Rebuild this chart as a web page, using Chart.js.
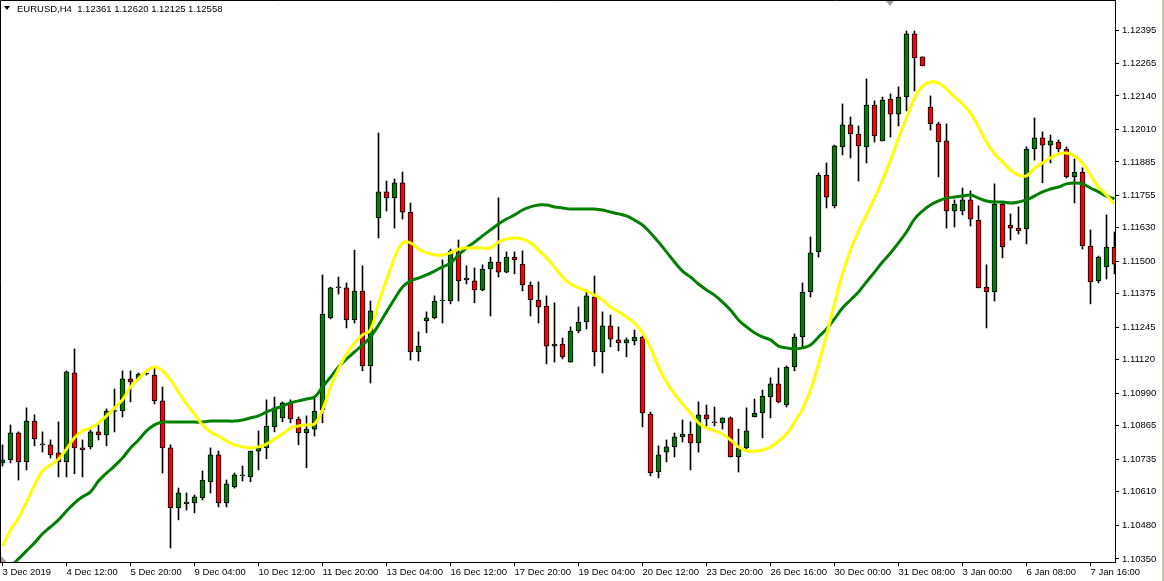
<!DOCTYPE html>
<html>
<head>
<meta charset="utf-8">
<title>EURUSD,H4</title>
<script src="https://cdn.jsdelivr.net/npm/chart.js@4.4.1/dist/chart.umd.min.js"></script>
<style>
  html, body { margin: 0; padding: 0; background: #fff; }
  #wrap { position: relative; width: 1164px; height: 581px; overflow: hidden; }
  #header { position: absolute; left: 17px; top: 3px; font: 9.5px "Liberation Sans", Arial, sans-serif; color: #000; white-space: pre; }
  #arrow { position: absolute; left: 4px; top: 6px; width: 0; height: 0; border-left: 3.5px solid transparent; border-right: 3.5px solid transparent; border-top: 4px solid #000; }
</style>
</head>
<body>
<div id="wrap">
  <canvas id="myChart" width="1164" height="581"></canvas>
  <div id="arrow"></div>
  <div id="header">EURUSD,H4  1.12361 1.12620 1.12125 1.12558</div>
</div>
<script>
// EURUSD H4 candles, one entry per bar
const opens = [
  1.10721,1.10733,1.10837,1.10725,1.10883,1.10791,1.10791,1.10760,1.10725,1.11069,
  1.10779,1.10783,1.10841,1.10829,1.10920,1.10922,1.11046,1.11046,1.11065,1.11061,
  1.10961,1.10779,1.10547,1.10563,1.10566,1.10586,1.10648,1.10752,1.10566,1.10628,
  1.10671,1.10667,1.10767,1.10779,1.10860,1.10895,1.10953,1.10891,1.10837,1.10852,
  1.10926,1.11282,1.11398,1.11398,1.11274,1.11386,1.11096,1.11668,1.11769,1.11746,
  1.11804,1.11691,1.11150,1.11270,1.11282,1.11347,1.11347,1.11537,1.11429,1.11425,
  1.11390,1.11471,1.11498,1.11459,1.11517,1.11490,1.11409,1.11351,1.11328,1.11173,
  1.11181,1.11111,1.11231,1.11266,1.11363,1.11150,1.11251,1.11197,1.11185,1.11193,
  1.11208,1.10910,1.10686,1.10763,1.10783,1.10822,1.10833,1.10798,1.10907,1.10880,
  1.10876,1.10895,1.10744,1.10779,1.10899,1.10914,1.10976,1.11027,1.10945,1.11092,
  1.11208,1.11382,1.11537,1.11834,1.11715,1.11943,1.12028,1.11993,1.11943,1.12105,
  1.11966,1.12128,1.12070,1.12136,1.12380,1.12291,1.12097,1.12032,1.11966,1.11695,
  1.11695,1.11738,1.11660,1.11401,1.11382,1.11722,1.11641,1.11629,1.11626,1.11935,
  1.11978,1.11950,1.11962,1.11935,1.11827,1.11846,1.11560,1.11425,1.11479,1.11556
];
const highs = [
  1.10791,1.10868,1.10841,1.10934,1.10907,1.10841,1.10810,1.10880,1.11077,1.11162,
  1.10810,1.10849,1.10868,1.10930,1.11007,1.11077,1.11077,1.11069,1.11069,1.11092,
  1.11015,1.10791,1.10624,1.10605,1.10597,1.10690,1.10779,1.10767,1.10655,1.10682,
  1.10709,1.10767,1.10845,1.10965,1.10976,1.10957,1.10965,1.10899,1.10903,1.10976,
  1.11448,1.11401,1.11440,1.11417,1.11544,1.11483,1.11347,1.11997,1.11811,1.11819,
  1.11846,1.11726,1.11228,1.11305,1.11367,1.11506,1.11548,1.11583,1.11483,1.11475,
  1.11487,1.11517,1.11746,1.11537,1.11537,1.11541,1.11421,1.11421,1.11367,1.11340,
  1.11204,1.11247,1.11324,1.11390,1.11444,1.11305,1.11293,1.11247,1.11204,1.11235,
  1.11212,1.10918,1.10787,1.10810,1.10837,1.10887,1.10880,1.10957,1.10945,1.10937,
  1.10895,1.10899,1.10852,1.10934,1.10968,1.11003,1.11050,1.11088,1.11096,1.11220,
  1.11417,1.11595,1.11842,1.11881,1.11950,1.12109,1.12059,1.12024,1.12206,1.12121,
  1.12136,1.12148,1.12175,1.12391,1.12391,1.12291,1.12140,1.12039,1.12032,1.11738,
  1.11784,1.11773,1.11715,1.11487,1.11800,1.11730,1.11684,1.11711,1.11943,1.12055,
  1.12001,1.11989,1.11970,1.11943,1.11896,1.11862,1.11622,1.11521,1.11680,1.11614
];
const lows = [
  1.10709,1.10721,1.10655,1.10694,1.10787,1.10763,1.10740,1.10667,1.10667,1.10679,
  1.10667,1.10775,1.10810,1.10787,1.10841,1.10899,1.10957,1.11042,1.11061,1.10949,
  1.10682,1.10392,1.10501,1.10539,1.10528,1.10578,1.10605,1.10551,1.10551,1.10624,
  1.10651,1.10648,1.10694,1.10737,1.10841,1.10880,1.10876,1.10791,1.10702,1.10825,
  1.10876,1.11278,1.11374,1.11243,1.11262,1.11077,1.11030,1.11591,1.11695,1.11629,
  1.11664,1.11119,1.11115,1.11224,1.11278,1.11262,1.11336,1.11347,1.11413,1.11340,
  1.11386,1.11289,1.11440,1.11456,1.11452,1.11386,1.11289,1.11262,1.11104,1.11111,
  1.11123,1.11111,1.11224,1.11239,1.11096,1.11069,1.11170,1.11154,1.11131,1.11177,
  1.10860,1.10671,1.10663,1.10725,1.10744,1.10802,1.10694,1.10763,1.10864,1.10864,
  1.10852,1.10744,1.10686,1.10775,1.10899,1.10818,1.10895,1.10953,1.10937,1.11077,
  1.11170,1.11363,1.11517,1.11707,1.11707,1.11912,1.11900,1.11811,1.11881,1.11962,
  1.11966,1.11981,1.12024,1.12082,1.12159,1.12256,1.12008,1.11827,1.11629,1.11633,
  1.11680,1.11637,1.11398,1.11243,1.11347,1.11514,1.11583,1.11606,1.11568,1.11892,
  1.11804,1.11881,1.11923,1.11823,1.11726,1.11548,1.11336,1.11417,1.11432,1.11452
];
const closes = [
  1.10733,1.10837,1.10725,1.10883,1.10814,1.10791,1.10752,1.10725,1.11073,1.10779,
  1.10771,1.10841,1.10829,1.10922,1.10923,1.11046,1.11034,1.11065,1.11065,1.10961,
  1.10779,1.10547,1.10605,1.10570,1.10590,1.10655,1.10752,1.10566,1.10640,1.10675,
  1.10671,1.10767,1.10779,1.10864,1.10934,1.10953,1.10891,1.10837,1.10852,1.10922,
  1.11297,1.11398,1.11398,1.11274,1.11386,1.11096,1.11309,1.11769,1.11746,1.11804,
  1.11691,1.11150,1.11173,1.11282,1.11347,1.11347,1.11541,1.11425,1.11436,1.11390,
  1.11471,1.11498,1.11459,1.11517,1.11506,1.11409,1.11351,1.11324,1.11173,1.11181,
  1.11131,1.11231,1.11266,1.11367,1.11150,1.11251,1.11200,1.11185,1.11197,1.11208,
  1.10914,1.10682,1.10752,1.10783,1.10822,1.10833,1.10798,1.10907,1.10891,1.10876,
  1.10895,1.10744,1.10779,1.10845,1.10914,1.10980,1.11027,1.10957,1.11092,1.11208,
  1.11382,1.11533,1.11834,1.11749,1.11947,1.12028,1.11993,1.11947,1.12105,1.11985,
  1.12124,1.12070,1.12136,1.12380,1.12287,1.12256,1.12032,1.11962,1.11695,1.11722,
  1.11738,1.11664,1.11398,1.11382,1.11722,1.11556,1.11629,1.11618,1.11935,1.11978,
  1.11950,1.11966,1.11935,1.11827,1.11846,1.11560,1.11421,1.11517,1.11556,1.11490
];

// moving averages (yellow = fast, green = slow)
const fastMA = [
  1.10400,1.10462,1.10508,1.10570,1.10636,1.10690,1.10713,1.10736,1.10775,1.10818,
  1.10845,1.10856,1.10876,1.10903,1.10934,1.10965,1.11015,1.11046,1.11077,1.11092,
  1.11077,1.11042,1.10995,1.10949,1.10910,1.10868,1.10841,1.10825,1.10806,1.10791,
  1.10783,1.10779,1.10783,1.10794,1.10814,1.10833,1.10856,1.10864,1.10868,1.10872,
  1.10926,1.11015,1.11084,1.11142,1.11185,1.11216,1.11235,1.11340,1.11428,1.11514,
  1.11572,1.11572,1.11548,1.11533,1.11525,1.11525,1.11533,1.11548,1.11552,1.11552,
  1.11552,1.11552,1.11575,1.11587,1.11591,1.11587,1.11572,1.11544,1.11514,1.11479,
  1.11440,1.11413,1.11398,1.11386,1.11370,1.11351,1.11324,1.11305,1.11285,1.11262,
  1.11224,1.11166,1.11092,1.11034,1.10988,1.10949,1.10914,1.10876,1.10856,1.10845,
  1.10833,1.10810,1.10783,1.10767,1.10767,1.10771,1.10783,1.10806,1.10833,1.10879,
  1.10930,1.11003,1.11104,1.11216,1.11336,1.11452,1.11544,1.11618,1.11680,1.11745,
  1.11815,1.11892,1.11977,1.12055,1.12132,1.12178,1.12194,1.12190,1.12167,1.12136,
  1.12109,1.12074,1.12020,1.11962,1.11916,1.11885,1.11854,1.11834,1.11831,1.11861,
  1.11881,1.11900,1.11916,1.11919,1.11908,1.11881,1.11834,1.11788,1.11757,1.11722
];
const slowMA = [
  1.10315,1.10323,1.10350,1.10381,1.10412,1.10447,1.10474,1.10501,1.10535,1.10566,
  1.10590,1.10609,1.10651,1.10682,1.10709,1.10740,1.10779,1.10810,1.10845,1.10868,
  1.10879,1.10879,1.10879,1.10879,1.10879,1.10879,1.10883,1.10883,1.10883,1.10883,
  1.10887,1.10895,1.10903,1.10918,1.10930,1.10941,1.10953,1.10961,1.10968,1.10976,
  1.11015,1.11053,1.11092,1.11123,1.11150,1.11177,1.11208,1.11254,1.11305,1.11355,
  1.11401,1.11425,1.11436,1.11448,1.11463,1.11479,1.11494,1.11525,1.11552,1.11575,
  1.11599,1.11622,1.11645,1.11664,1.11680,1.11699,1.11711,1.11718,1.11718,1.11711,
  1.11707,1.11703,1.11703,1.11703,1.11703,1.11699,1.11691,1.11684,1.11676,1.11660,
  1.11641,1.11610,1.11575,1.11537,1.11498,1.11463,1.11440,1.11413,1.11390,1.11370,
  1.11343,1.11312,1.11274,1.11247,1.11224,1.11208,1.11197,1.11173,1.11166,1.11162,
  1.11166,1.11177,1.11208,1.11239,1.11278,1.11320,1.11351,1.11382,1.11421,1.11459,
  1.11498,1.11533,1.11572,1.11614,1.11664,1.11695,1.11718,1.11734,1.11745,1.11749,
  1.11753,1.11757,1.11745,1.11734,1.11730,1.11730,1.11726,1.11730,1.11738,1.11753,
  1.11769,1.11780,1.11788,1.11800,1.11803,1.11800,1.11784,1.11769,1.11753,1.11742
];

// a time label every 8 bars, starting with bar 0
const xTickLabels = ["3 Dec 2019", "4 Dec 12:00", "5 Dec 20:00", "9 Dec 04:00", "10 Dec 12:00",
  "11 Dec 20:00", "13 Dec 04:00", "16 Dec 12:00", "17 Dec 20:00", "19 Dec 04:00", "20 Dec 12:00",
  "23 Dec 20:00", "26 Dec 16:00", "30 Dec 00:00", "31 Dec 08:00", "3 Jan 00:00", "6 Jan 08:00", "7 Jan 16:00"];
const yTickLabels = ["1.12395", "1.12265", "1.12140", "1.12010", "1.11885", "1.11755", "1.11630",
  "1.11500", "1.11375", "1.11245", "1.11120", "1.10990", "1.10865", "1.10735", "1.10610",
  "1.10480", "1.10350"];
const yMin = 1.10338;
const yMax = 1.12511;


const wicks = highs.map((h, i) => ({ x: i, y: [lows[i], h] }));
const bodies = opens.map((o, i) => ({ x: i, y: [o, closes[i]] }));
const bodyColors = opens.map((o, i) => closes[i] >= o ? "#008000" : "#ff0000");
const fastLine = fastMA.map((v, i) => ({ x: i, y: v }));
const slowLine = slowMA.map((v, i) => ({ x: i, y: v }));

const tickFont = { family: "'Liberation Sans', Arial, sans-serif", size: 9.5 };

// frame on the left and top, the two grey markers and the window edge
const framePlugin = {
  id: "frame",
  afterDraw(chart) {
    const c = chart.ctx;
    const a = chart.chartArea;
    c.save();
    c.strokeStyle = "#000";
    c.lineWidth = 1;
    c.beginPath();
    c.moveTo(a.left + 0.5, a.bottom);
    c.lineTo(a.left + 0.5, a.top + 0.5);
    c.lineTo(a.right, a.top + 0.5);
    c.stroke();

    c.fillStyle = "#a0a0a0";
    c.beginPath();
    c.moveTo(886, 1);
    c.lineTo(894, 1);
    c.lineTo(890, 6);
    c.closePath();
    c.fill();
    c.beginPath();
    c.moveTo(1, 556);
    c.lineTo(1, a.bottom);
    c.lineTo(7, a.bottom);
    c.closePath();
    c.fill();

    c.fillStyle = "#c8c8a8";
    c.fillRect(chart.width - 2, 0, 2, chart.height);
    c.restore();
  }
};

const ctx = document.getElementById("myChart").getContext("2d");
const myChart = new Chart(ctx, {
  type: "bar",
  data: {
    datasets: [
      {
        type: "line",
        label: "MA fast",
        data: fastLine,
        borderColor: "#ffff00",
        borderWidth: 3,
        pointRadius: 0,
        tension: 0.4,
        order: 0
      },
      {
        type: "line",
        label: "MA slow",
        data: slowLine,
        borderColor: "#008000",
        borderWidth: 3,
        pointRadius: 0,
        tension: 0.4,
        order: 1
      },
      {
        label: "body",
        data: bodies,
        backgroundColor: bodyColors,
        borderColor: "#000",
        borderWidth: 1,
        borderSkipped: false,
        barThickness: 5,
        minBarLength: 1,
        grouped: false,
        order: 2
      },
      {
        label: "wick",
        data: wicks,
        backgroundColor: "#000",
        borderWidth: 0,
        barThickness: 1,
        grouped: false,
        order: 3
      }
    ]
  },
  options: {
    responsive: false,
    animation: false,
    devicePixelRatio: 1,
    layout: { padding: 0 },
    plugins: {
      legend: { display: false },
      tooltip: { enabled: false }
    },
    scales: {
      x: {
        type: "linear",
        offset: false,
        min: -0.3125,
        max: 139.0625,
        afterBuildTicks: (scale) => {
          scale.ticks = xTickLabels.map((l, k) => ({ value: k * 8 }));
        },
        afterFit: (scale) => {
          scale.height = 19;
          scale.paddingLeft = 0;
          scale.paddingRight = 0;
        },
        ticks: {
          autoSkip: false,
          maxRotation: 0,
          align: "start",
          padding: 1,
          color: "#000",
          font: tickFont,
          callback: (value) => xTickLabels[Math.round(value / 8)]
        },
        grid: { offset: false, drawOnChartArea: false, drawTicks: true, tickLength: 4, color: "#000" },
        border: { display: true, color: "#000" }
      },
      y: {
        type: "linear",
        position: "right",
        min: yMin,
        max: yMax,
        afterBuildTicks: (scale) => {
          scale.ticks = yTickLabels.map((l) => ({ value: parseFloat(l) }));
        },
        afterFit: (scale) => {
          scale.width = 49;
          scale.paddingTop = 0;
          scale.paddingBottom = 0;
        },
        ticks: {
          autoSkip: false,
          padding: 3,
          color: "#000",
          font: tickFont,
          callback: (value, index) => yTickLabels[index]
        },
        grid: { drawOnChartArea: false, drawTicks: true, tickLength: 4, color: "#000" },
        border: { display: true, color: "#000" }
      }
    }
  },
  plugins: [framePlugin]
});
</script>
</body>
</html>
